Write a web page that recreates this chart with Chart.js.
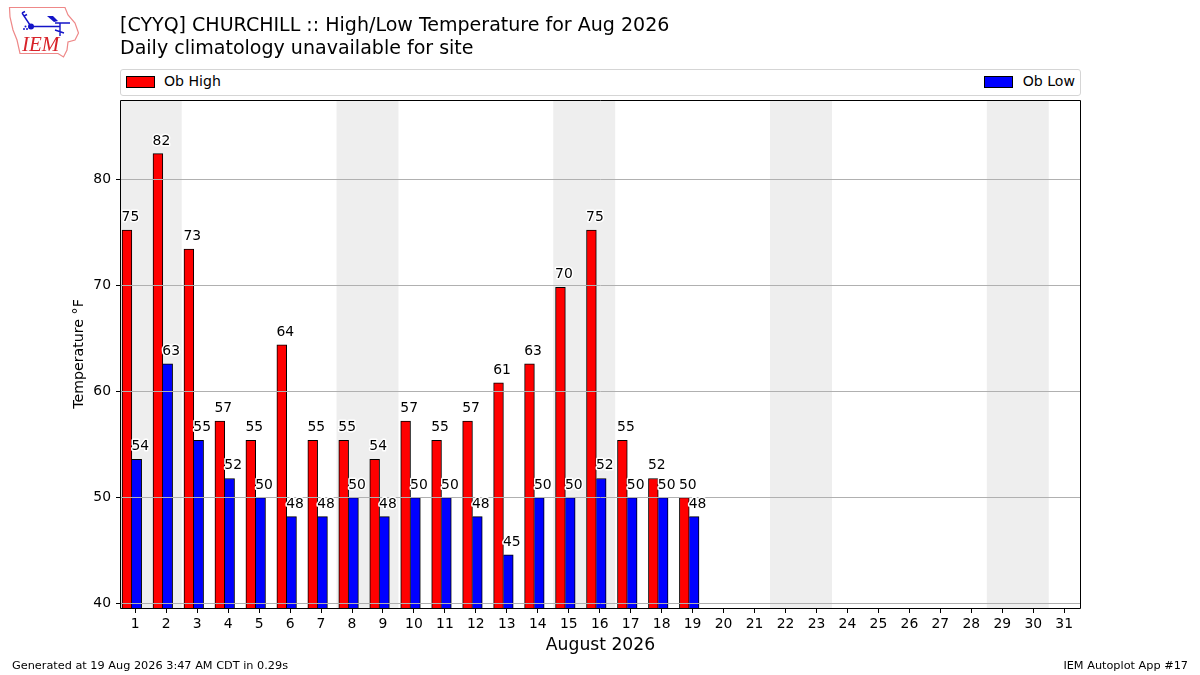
<!DOCTYPE html>
<html>
<head>
<meta charset="utf-8">
<title>CYYQ High/Low Temperature</title>
<script src="https://cdn.jsdelivr.net/npm/chart.js@4/dist/chart.umd.js"></script>
<style>
    body { margin: 0; background: #fff; font-family: "DejaVu Sans", sans-serif; color: #000; }
    #wrap { position: relative; width: 1200px; height: 675px; overflow: hidden; }
    #wrap canvas { position: absolute; left: 0; top: 0; }
    .txt { position: absolute; white-space: nowrap; }
    #legend { position: absolute; left: 120px; top: 69px; width: 959px; height: 25px; border: 1px solid #d5d5d5; border-radius: 3px; background: #fff; }
    .swatch { position: absolute; top: 6px; width: 27px; height: 10px; border: 1px solid #000; }
</style>
</head>
<body>
<div id="wrap">
    <canvas id="chart" width="1200" height="675"></canvas>

    <svg class="txt" style="left:0;top:0" width="90" height="62" viewBox="0 0 90 62">
        <path d="M9.5 7.5 L65 7.5 L68 15 L75 23 L78.5 33 L75 40 L68 42 L67 50 L63.5 57 L58 53.5 L20 53.5 L17 40 L13 30 L10 17 Z" fill="#fff" stroke="#e88" stroke-width="1.2"/>
        <g stroke="#1414c8" stroke-width="1.4" fill="none">
            <path d="M31 26.5 L60 26.5 M31 26.5 L22 13 M22 13 L25 11.5 M24 16 L27 14.5 M55 23 L70 23 M60 23 L60 36 M55 30 L64 33"/>
        </g>
        <circle cx="31" cy="26.5" r="3" fill="#1414c8"/>
        <path d="M47 16 L53 16 L58 21 L54 22 Z" fill="#1414c8"/>
        <circle cx="24" cy="29" r="1" fill="#1414c8"/>
        <circle cx="27" cy="29" r="1" fill="#1414c8"/>
        <circle cx="25.5" cy="26.5" r="1" fill="#1414c8"/>
        <text x="22" y="51" font-family="Liberation Serif" font-style="italic" font-size="21" fill="#d8232a">IEM</text>
    </svg>

    <div class="txt" style="left:120px;top:13px;font-size:19.04px;line-height:23px">[CYYQ] CHURCHILL :: High/Low Temperature for Aug 2026<br>Daily climatology unavailable for site</div>

    <div id="legend">
        <div class="swatch" style="left:5px;background:#ff0000"></div>
        <div class="txt" style="left:43px;top:3px;font-size:14.1px">Ob High</div>
        <div class="swatch" style="left:863px;background:#0000ff"></div>
        <div class="txt" style="right:5px;top:3px;font-size:14.1px">Ob Low</div>
    </div>

    <div class="txt" style="left:12px;top:659px;font-size:11.29px">Generated at 19 Aug 2026 3:47 AM CDT in 0.29s</div>
    <div class="txt" style="right:12px;top:659px;font-size:11.29px">IEM Autoplot App #17</div>
</div>

<script>
const days = [1, 2, 3, 4, 5, 6, 7, 8, 9, 10, 11, 12, 13, 14, 15, 16, 17, 18, 19, 20, 21, 22, 23, 24, 25, 26, 27, 28, 29, 30, 31];
const obHigh = [75.2, 82.4, 73.4, 57.2, 55.4, 64.4, 55.4, 55.4, 53.6, 57.2, 55.4, 57.2, 60.8, 62.6, 69.8, 75.2, 55.4, 51.8, 50];
const obLow = [53.6, 62.6, 55.4, 51.8, 50, 48.2, 48.2, 50, 48.2, 50, 50, 48.2, 44.6, 50, 50, 51.8, 50, 50, 48.2];
const yTicks = [40, 50, 60, 70, 80];
const weekendDays = [1, 8, 15, 22, 29]; // first day of each two day shaded band

function toPoints(values) {
    return values.map((v, i) => ({ x: days[i], y: v }));
}

function setTicks(values) {
    return scale => { scale.ticks = values.map(v => ({ value: v })); };
}

const weekendBands = {
    id: 'weekendBands',
    beforeDatasetsDraw(chart) {
        const { ctx, chartArea, scales } = chart;
        ctx.save();
        ctx.beginPath();
        ctx.rect(chartArea.left, chartArea.top, chartArea.width, chartArea.height);
        ctx.clip();
        ctx.fillStyle = '#eeeeee';
        weekendDays.forEach(d => {
            const x0 = scales.x.getPixelForValue(d - 0.5);
            const x1 = scales.x.getPixelForValue(d + 1.5);
            ctx.fillRect(x0, chartArea.top, x1 - x0, chartArea.height);
        });
        ctx.restore();
    }
};

// frame around the plot and the value labels, these sit on top of the grid
const frameAndLabels = {
    id: 'frameAndLabels',
    afterDraw(chart) {
        const { ctx, chartArea } = chart;
        ctx.save();
        ctx.font = '13.9px "DejaVu Sans"';
        ctx.textAlign = 'center';
        ctx.textBaseline = 'alphabetic';
        ctx.lineJoin = 'round';
        chart.data.datasets.forEach((ds, di) => {
            chart.getDatasetMeta(di).data.forEach((bar, i) => {
                const label = String(Math.round(ds.data[i].y));
                ctx.lineWidth = 3;
                ctx.strokeStyle = '#fff';
                ctx.strokeText(label, bar.x + 3.5, bar.y - 9);
                ctx.fillStyle = '#000';
                ctx.fillText(label, bar.x + 3.5, bar.y - 9);
            });
        });
        ctx.strokeStyle = '#000';
        ctx.lineWidth = 1;
        ctx.strokeRect(chartArea.left - 0.5, chartArea.top + 0.5, chartArea.width + 1, chartArea.height);
        ctx.restore();
    }
};

new Chart(document.getElementById('chart').getContext('2d'), {
    type: 'bar',
    data: {
        datasets: [
            { label: 'Ob High', data: toPoints(obHigh), xAxisID: 'xBars', backgroundColor: '#ff0000', borderColor: '#000', borderWidth: 1, barThickness: 9.8 },
            // no left edge here, the red bar's right edge is shared
            { label: 'Ob Low', data: toPoints(obLow), xAxisID: 'xBars', backgroundColor: '#0000ff', borderColor: '#000', borderWidth: { top: 1, right: 1, left: 0, bottom: 0 }, barThickness: 9.8 }
        ]
    },
    options: {
        responsive: false,
        animation: false,
        layout: { padding: { top: 100, right: 120, left: 71, bottom: 19 } },
        plugins: { legend: { display: false }, title: { display: false }, tooltip: { enabled: false } },
        scales: {
            // bars sit a bit left of the day tick, so they get their own shifted axis
            xBars: { type: 'linear', axis: 'x', display: false, offset: false, min: 0.65, max: 31.62 },
            x: {
                type: 'linear',
                position: 'bottom',
                offset: false,
                min: 0.54,
                max: 31.51,
                afterBuildTicks: setTicks(days),
                afterFit: s => { s.height = 48; },
                grid: { offset: false, drawOnChartArea: false, tickLength: 5, tickColor: '#000' },
                border: { display: false },
                ticks: { color: '#000', font: { family: 'DejaVu Sans', size: 13.9 }, padding: 3, maxRotation: 0, autoSkip: false, callback: v => v },
                title: { display: true, text: 'August 2026', color: '#000', font: { family: 'DejaVu Sans', size: 17.2 }, padding: { top: 3, bottom: 0 } }
            },
            y: {
                type: 'linear',
                min: 39.6,
                max: 87.45,
                afterBuildTicks: setTicks(yTicks),
                afterFit: s => { s.width = 50; },
                grid: { color: '#b0b0b0', z: 1, tickLength: 5, tickColor: '#000' },
                border: { display: false },
                ticks: { color: '#000', font: { family: 'DejaVu Sans', size: 13.9 }, padding: 5, callback: v => v },
                title: { display: true, text: 'Temperature °F', color: '#000', font: { family: 'DejaVu Sans', size: 14.2 }, padding: { top: 0, bottom: 6 } }
            }
        }
    },
    plugins: [weekendBands, frameAndLabels]
});
</script>
</body>
</html>
